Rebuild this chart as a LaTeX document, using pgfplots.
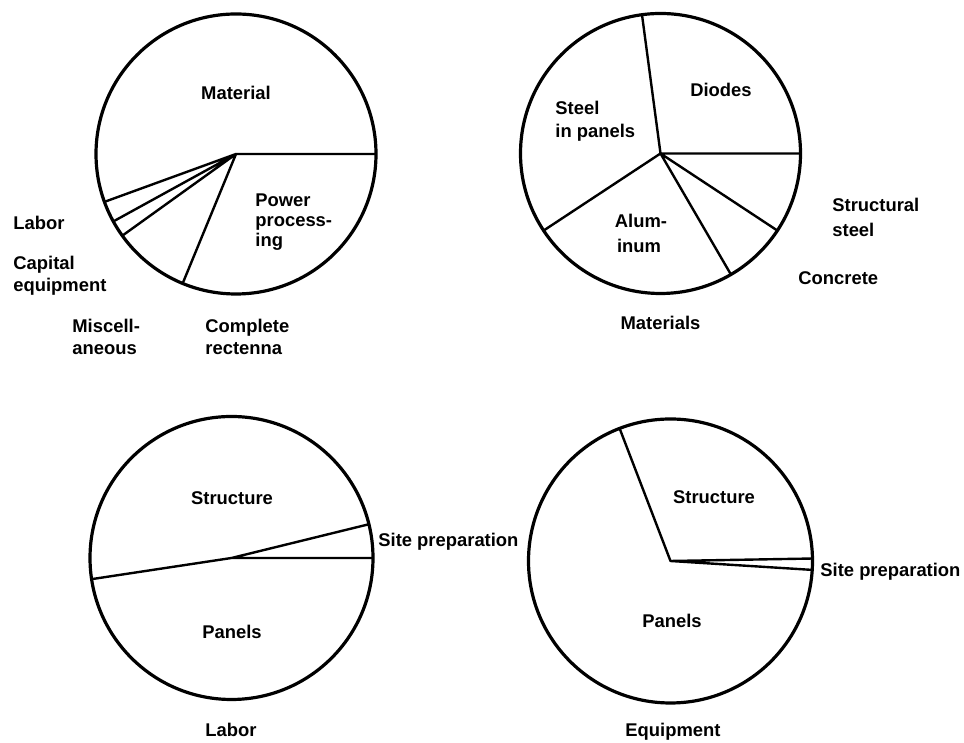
\documentclass[border=0pt]{standalone}
\usepackage{pgfplots}
\pgfplotsset{compat=1.18}
\usepackage{fontspec}
\setmainfont{Liberation Sans}

% boundary angles (degrees) of the slices, one pie per axis
\pgfplotsset{
  pie/.style={hide axis, scale only axis, anchor=center, clip=false,
    xmin=-1, xmax=1, ymin=-1, ymax=1},
  cut/.style={draw=black, line width=1.2pt, data cs=polar, line join=round},
}

\begin{document}
\begin{tikzpicture}[x=0.5pt, y=0.5pt,
  lbl/.style={font=\fontsize{9.2}{11}\selectfont\bfseries, inner sep=0pt,
    text height=6.6pt, text depth=0pt}]
\path (0,0) rectangle (964,743);

% complete rectenna
\begin{axis}[pie, at={(118pt,294.5pt)}, width=140pt, height=140pt]
  \addplot[cut] coordinates {(0,1) (0,0) (200.0,1) (0,0) (208.8,1) (0,0) (215.7,1) (0,0) (247.6,1)};
  \draw[line width=1.6pt] (axis cs:0,0) circle [radius=1];
\end{axis}

% materials
\begin{axis}[pie, at={(330.25pt,294.75pt)}, width=140pt, height=140pt]
  \addplot[cut] coordinates {(0,1) (0,0) (97.6,1) (0,0) (213.4,1) (0,0) (300.2,1) (0,0) (326.6,1)};
  \draw[line width=1.6pt] (axis cs:0,0) circle [radius=1];
\end{axis}

% labor
\begin{axis}[pie, at={(115.75pt,92.5pt)}, width=141.5pt, height=141.5pt]
  \addplot[cut] coordinates {(0,1) (0,0) (13.8,1) (0,0) (188.6,1)};
  \draw[line width=1.6pt] (axis cs:0,0) circle [radius=1];
\end{axis}

% equipment
\begin{axis}[pie, at={(335.25pt,91pt)}, width=142pt, height=142pt]
  \addplot[cut] coordinates {(1.0,1) (0,0) (111.0,1) (0,0) (356.4,1)};
  \draw[line width=1.6pt] (axis cs:0,0) circle [radius=1];
\end{axis}

% labels, pie 1
\node[lbl] at (236,650) {Material};
\node[lbl, anchor=west] at (255,543) {Power};
\node[lbl, anchor=west] at (255,523) {process-};
\node[lbl, anchor=west] at (255,503) {ing};
\node[lbl, anchor=west] at (13,520) {Labor};
\node[lbl, anchor=west] at (13,480) {Capital};
\node[lbl, anchor=west] at (13,458) {equipment};
\node[lbl, anchor=west] at (72,417) {Miscell-};
\node[lbl, anchor=west] at (72,395) {aneous};
\node[lbl, anchor=west] at (205,417) {Complete};
\node[lbl, anchor=west] at (205,395) {rectenna};

% labels, pie 2
\node[lbl] at (721,653) {Diodes};
\node[lbl, anchor=west] at (555,635) {Steel};
\node[lbl, anchor=west] at (555,612) {in panels};
\node[lbl] at (641,522) {Alum-};
\node[lbl] at (639,497) {inum};
\node[lbl, anchor=west] at (832,538) {Structural};
\node[lbl, anchor=west] at (832,513) {steel};
\node[lbl, anchor=west] at (798,465) {Concrete};
\node[lbl] at (660.5,420) {Materials};

% labels, pie 3
\node[lbl] at (232,245) {Structure};
\node[lbl, anchor=west] at (378,203) {Site preparation};
\node[lbl] at (232,111) {Panels};
\node[lbl] at (231,13) {Labor};

% labels, pie 4
\node[lbl] at (714,246) {Structure};
\node[lbl, anchor=west] at (820,173) {Site preparation};
\node[lbl] at (672,122) {Panels};
\node[lbl] at (673,13) {Equipment};
\end{tikzpicture}
\end{document}
